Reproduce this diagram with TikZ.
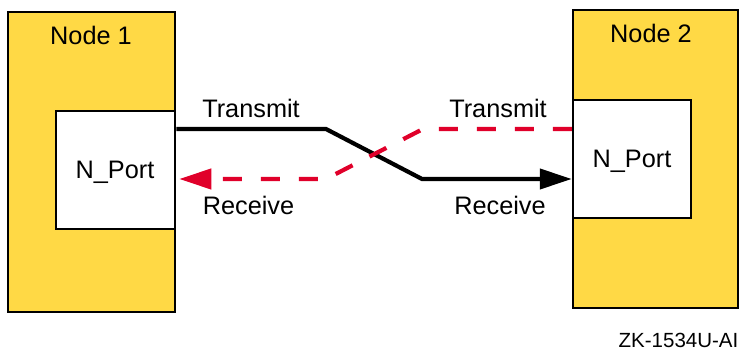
\documentclass[tikz,border=0pt]{standalone}
\usepackage{fontspec}
\setmainfont{Liberation Sans}
\usetikzlibrary{arrows.meta}
\definecolor{nodeyellow}{HTML}{FFD945}
\definecolor{sigred}{HTML}{E0002A}
\begin{document}
\begin{tikzpicture}[x=1pt,y=-1pt,
  nodebox/.style={draw=black,line width=2.5pt,fill=nodeyellow,inner sep=0pt},
  portbox/.style={draw=black,line width=2.5pt,fill=white,inner sep=0pt},
  lbl/.style={inner sep=0pt,anchor=base,font=\fontsize{25.3}{30}\selectfont},
  txline/.style={line width=4.2pt,-{Triangle[length=32pt,width=20pt]}},
  rxline/.style={sigred,line width=4.2pt,dash pattern=on 19pt off 19pt,-{Triangle[length=32pt,width=20pt]}}]
\useasboundingbox (0,0) rectangle (739,352);
% Node 1
\node[nodebox,minimum width=167pt,minimum height=300pt] (n1) at (91.5,162) {};
\node[portbox,minimum width=119pt,minimum height=118pt] (p1) at (115.5,170) {};
% Node 2
\node[nodebox,minimum width=165pt,minimum height=298pt] (n2) at (655.5,159) {};
\node[portbox,minimum width=118pt,minimum height=118pt] (p2) at (632,159) {};
% labels
\node[lbl] (l1) at (91,45) {Node 1};
\node[lbl] (l2) at (651,43) {Node 2};
\node[lbl] (lp1) at (115,179) {N\_Port};
\node[lbl] (lp2) at (632,168) {N\_Port};
\node[lbl] (tx1) at (251,118) {Transmit};
\node[lbl] (rx1) at (248.5,215) {Receive};
\node[lbl] (tx2) at (498,118) {Transmit};
\node[lbl] (rx2) at (500,215) {Receive};
\node[inner sep=0pt,anchor=base east,font=\fontsize{20.5}{24}\selectfont] (id) at (738.5,348) {ZK-1534U-AI};
% connectors
\coordinate (a1) at (326,129);
\coordinate (a2) at (422,179);
\coordinate (b1) at (423,129);
\coordinate (b2) at (326,179);
\draw[txline] (p1.east |- a1) -- (a1) -- (a2) -- (p2.west |- a2);
\draw[rxline] (p2.west |- b1) -- (b1) -- (b2) -- ([xshift=3pt]p1.east |- b2);
\end{tikzpicture}
\end{document}
